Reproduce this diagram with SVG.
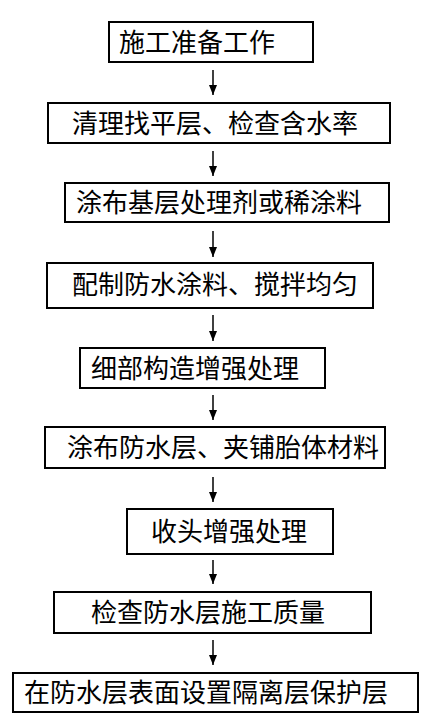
<svg xmlns="http://www.w3.org/2000/svg" width="439" height="723" viewBox="0 0 439 723">
<defs>
<style>
.box{fill:#fff;stroke:#000;stroke-width:2}
.lbl{font-family:"Noto Sans CJK SC","Noto Sans",sans-serif;font-size:26px;fill:#000}
</style>
<marker id="ah2" viewBox="0 0 10 8" refX="10" refY="4" markerWidth="10" markerHeight="8" markerUnits="userSpaceOnUse" orient="auto">
<path d="M0,0 L10,4 L0,8 Z" fill="#000"/>
</marker>
</defs>
<rect width="439" height="723" fill="#fff"/>
<g id="connectors" stroke="#000" stroke-width="1.5" fill="none">
<line x1="213" y1="70" x2="213" y2="95" marker-end="url(#ah2)"/>
<line x1="213" y1="151" x2="213" y2="176" marker-end="url(#ah2)"/>
<line x1="213" y1="231" x2="213" y2="257" marker-end="url(#ah2)"/>
<line x1="213" y1="315" x2="213" y2="341" marker-end="url(#ah2)"/>
<line x1="213" y1="395" x2="213" y2="420" marker-end="url(#ah2)"/>
<line x1="213" y1="477" x2="213" y2="502" marker-end="url(#ah2)"/>
<line x1="213" y1="560" x2="213" y2="584" marker-end="url(#ah2)"/>
<line x1="213" y1="640" x2="213" y2="665" marker-end="url(#ah2)"/>
</g>
<g id="n1"><rect class="box" x="109" y="22" width="204" height="40"/><text class="lbl" x="119" y="52">施工准备工作</text></g>
<g id="n2"><rect class="box" x="48" y="103" width="342" height="40"/><text class="lbl" x="72" y="133">清理找平层、检查含水率</text></g>
<g id="n3"><rect class="box" x="65" y="183" width="324" height="39"/><text class="lbl" x="76" y="212">涂布基层处理剂或稀涂料</text></g>
<g id="n4"><rect class="box" x="47" y="263" width="326" height="45"/><text class="lbl" x="72" y="294">配制防水涂料、搅拌均匀</text></g>
<g id="n5"><rect class="box" x="80" y="348" width="245" height="40"/><text class="lbl" x="91" y="378">细部构造增强处理</text></g>
<g id="n6"><rect class="box" x="45" y="427" width="340" height="41"/><text class="lbl" x="67" y="457">涂布防水层、夹铺胎体材料</text></g>
<g id="n7"><rect class="box" x="127" y="509" width="206" height="45"/><text class="lbl" x="151" y="541">收头增强处理</text></g>
<g id="n8"><rect class="box" x="54" y="592" width="317" height="41"/><text class="lbl" x="91" y="622">检查防水层施工质量</text></g>
<g id="n9"><rect class="box" x="13" y="673" width="405" height="39"/><text class="lbl" x="24" y="702">在防水层表面设置隔离层保护层</text></g>
</svg>
